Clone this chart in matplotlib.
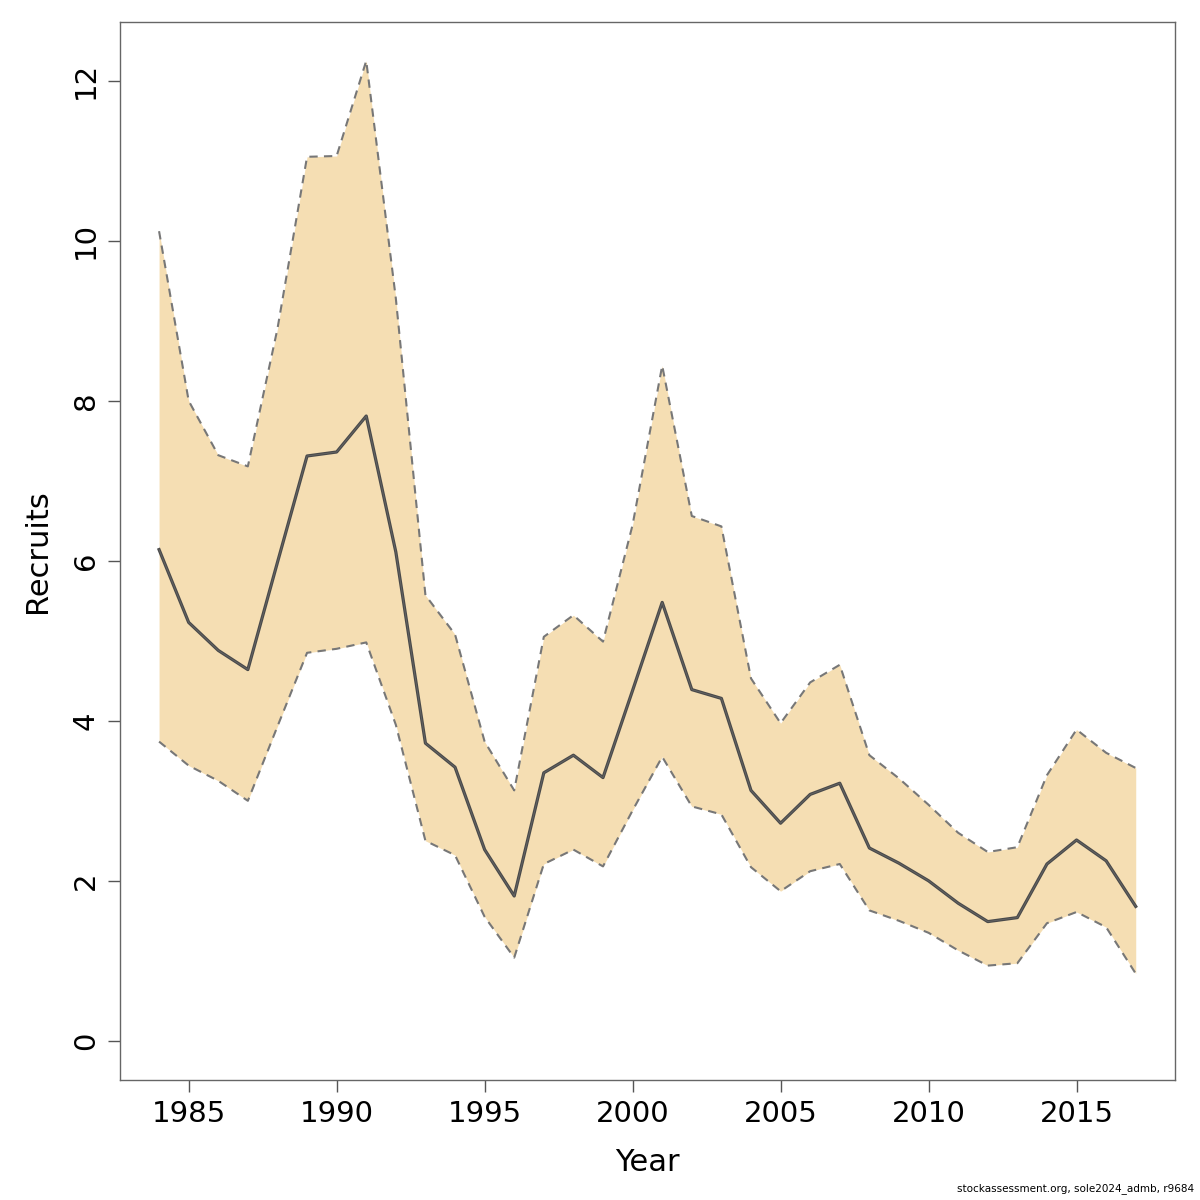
import matplotlib
matplotlib.use("Agg")
import matplotlib.pyplot as plt
import numpy as np

years = np.arange(1984, 2018)
recruits = [6.14, 5.23, 4.88, 4.64, 5.98, 7.31, 7.36, 7.81, 6.11, 3.72,
            3.42, 2.39, 1.81, 3.35, 3.57, 3.29, 4.38, 5.48, 4.39, 4.28,
            3.13, 2.72, 3.08, 3.22, 2.41, 2.22, 2.00, 1.72, 1.49, 1.54,
            2.21, 2.51, 2.25, 1.68]
upper = [10.12, 8.00, 7.32, 7.18, 8.90, 11.05, 11.06, 12.25, 9.28, 5.57,
         5.08, 3.74, 3.13, 5.05, 5.32, 4.99, 6.45, 8.44, 6.56, 6.43,
         4.53, 3.97, 4.48, 4.70, 3.57, 3.28, 2.95, 2.60, 2.36, 2.42,
         3.32, 3.89, 3.60, 3.41]
lower = [3.74, 3.44, 3.25, 3.00, 3.93, 4.85, 4.90, 4.98, 3.95, 2.50,
         2.32, 1.55, 1.04, 2.21, 2.39, 2.18, 2.88, 3.55, 2.93, 2.83,
         2.17, 1.87, 2.12, 2.21, 1.63, 1.50, 1.35, 1.13, 0.94, 0.97,
         1.47, 1.61, 1.42, 0.84]

fig = plt.figure(figsize=(12, 12), dpi=100)
ax = fig.add_axes([0.1, 0.1, 0.879, 0.882])

ax.fill_between(years, lower, upper, color="wheat", linewidth=0)
ax.plot(years, upper, color="#777777", linestyle=(0, (4, 3)), linewidth=1.5)
ax.plot(years, lower, color="#777777", linestyle=(0, (4, 3)), linewidth=1.5)
ax.plot(years, recruits, color="#4a4a4a", linewidth=2.3)
ax.plot(years, recruits, color="#666666", linewidth=0.6)

ax.set_xlim(1982.68, 2018.32)
ax.set_ylim(-0.49, 12.74)
ax.set_xticks(np.arange(1985, 2016, 5))
ax.set_yticks(np.arange(0, 13, 2))
ax.tick_params(labelsize=21, length=8.5, width=1, color="#555555", pad=6)
for lab in ax.get_yticklabels():
    lab.set_rotation(90)
    lab.set_va("center")
for s in ax.spines.values():
    s.set_color("#666666")
    s.set_linewidth(1)

ax.set_xlabel("Year", fontsize=22, labelpad=14)
ax.set_ylabel("Recruits", fontsize=22, labelpad=14)

fig.text(0.995, 0.005, "stockassessment.org, sole2024_admb, r9684",
         fontsize=7.5, ha="right", va="bottom")

fig.savefig("out.png", dpi=100)
